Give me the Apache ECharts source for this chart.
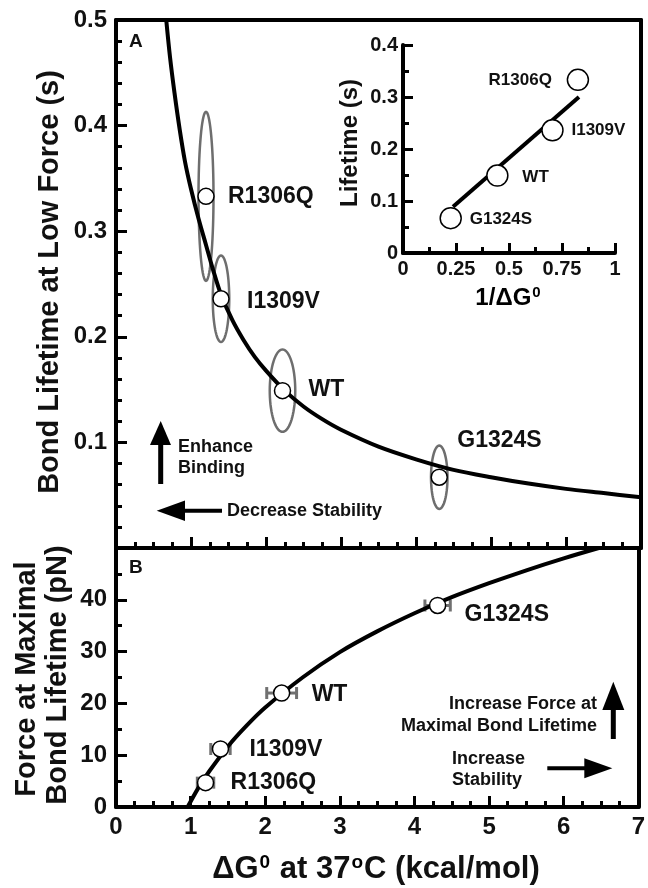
<!DOCTYPE html>
<html><head><meta charset="utf-8">
<script src="https://cdn.jsdelivr.net/npm/echarts@6/dist/echarts.min.js"></script>
<style>html,body{margin:0;padding:0;background:#fff}#c{width:648px;height:888px}</style>
</head><body><div id="c"></div>
<script>
// ---- data ----
const mutants = ['R1306Q', 'I1309V', 'WT', 'G1324S'];
// Panel A: bond lifetime at low force vs dG0
const dG = [1.20, 1.40, 2.22, 4.31];
const lifetime = [0.333, 0.236, 0.149, 0.067];
const dGErrA = [0.10, 0.11, 0.17, 0.11];
const lifetimeErr = [0.080, 0.041, 0.039, 0.030];
// Panel A fitted curve
const fitAx = [0.67, 0.72, 0.78, 0.85, 0.92, 1.0, 1.1, 1.2, 1.3, 1.4, 1.55, 1.7, 1.85, 2.0, 2.25, 2.5, 2.75, 3.0, 3.5, 4.0, 4.5, 5.0, 5.5, 6.0, 6.5, 7.0];
const fitAy = [0.500, 0.465, 0.431, 0.396, 0.366, 0.340, 0.312, 0.287, 0.262, 0.240, 0.216, 0.197, 0.181, 0.168, 0.149, 0.134, 0.122, 0.112, 0.096, 0.084, 0.074, 0.067, 0.061, 0.056, 0.052, 0.048];
// Inset: lifetime vs 1/dG0
const invDG = [0.825, 0.705, 0.445, 0.225];
const fitInsetX = [0.236, 0.83];
const fitInsetY = [0.089, 0.300];
// Panel B: force at maximal bond lifetime vs dG0
const forceMax = [4.7, 11.2, 22.0, 38.9];
const dGErrB = [0.11, 0.13, 0.20, 0.17];
const fitBx = [0.96, 1.1, 1.25, 1.5, 1.75, 2.0, 2.5, 3.0, 3.5, 4.0, 4.5, 5.0, 5.5, 6.0, 6.47];
const fitBy = [0, 3.6, 6.9, 11.7, 15.7, 19.2, 25.0, 29.9, 33.9, 37.4, 40.5, 43.2, 45.7, 48.0, 50.0];

const FONT = '"Liberation Sans", Arial, Helvetica, sans-serif';
const INK = '#111';

// label placement per mutant (style only)
const labA = {R1306Q: [22, 0, 'left'], I1309V: [26, 3, 'left'], WT: [26, -1, 'left'], G1324S: [18, -37, 'left']};
const labB = {R1306Q: [25, 0, 'left'], I1309V: [29, 1, 'left'], WT: [30, 2, 'left'], G1324S: [27, 9, 'left']};
const labI = {R1306Q: [-26, 0, 'right'], I1309V: [19, 0, 'left'], WT: [25, 2, 'left'], G1324S: [19, 1, 'left']};

function pts(xs, ys) { return xs.map((x, i) => [x, ys[i]]); }
function labelled(xs, ys, map, size) {
  return mutants.map((m, i) => ({
    value: [xs[i], ys[i]], name: m,
    label: {show: true, formatter: m, position: 'inside', offset: [map[m][0], map[m][1]], align: map[m][2],
      verticalAlign: 'middle', fontFamily: FONT, fontWeight: 'bold', fontSize: size, color: INK}
  }));
}

function mainX(gi, showLabel) {
  return {type: 'value', gridIndex: gi, min: 0, max: 7, interval: 1, position: 'bottom',
    axisLine: {show: true, onZero: false, lineStyle: {color: '#000', width: 4}},
    axisTick: {show: true, inside: true, length: 11, lineStyle: {color: '#000', width: 3}},
    minorTick: {show: true, splitNumber: 4, length: 6, lineStyle: {color: '#000', width: 3}},
    splitLine: {show: false},
    axisLabel: {show: showLabel, margin: 8, fontSize: 24, fontWeight: 'bold', fontFamily: FONT, color: INK}};
}
function borderAxis(kind, gi, pos, min, max) {
  return {type: 'value', gridIndex: gi, position: pos, min: min, max: max,
    axisLine: {show: true, onZero: false, lineStyle: {color: '#000', width: 4}},
    axisTick: {show: false}, axisLabel: {show: false}, splitLine: {show: false}};
}

const option = {
  animation: false,
  backgroundColor: '#fff',
  grid: [
    {left: 116, top: 20, width: 525, height: 528},
    {left: 116, top: 548, width: 525, height: 259},
    {left: 403, top: 45, width: 212, height: 208}
  ],
  xAxis: [
    mainX(0, false),
    borderAxis('x', 0, 'top', 0, 7),
    mainX(1, true),
    {type: 'value', gridIndex: 2, min: 0, max: 1, interval: 0.25, position: 'bottom',
      axisLine: {show: true, onZero: false, lineStyle: {color: '#000', width: 4}},
      axisTick: {show: true, inside: true, length: 10, lineStyle: {color: '#000', width: 3}},
      minorTick: {show: true, splitNumber: 2, length: 6, lineStyle: {color: '#000', width: 3}},
      splitLine: {show: false},
      axisLabel: {margin: 6, fontSize: 20, fontWeight: 'bold', fontFamily: FONT, color: INK}}
  ],
  yAxis: [
    {type: 'value', gridIndex: 0, min: 0, max: 0.5, interval: 0.1, position: 'left',
      axisLine: {show: true, onZero: false, lineStyle: {color: '#000', width: 4}},
      axisTick: {show: true, inside: true, length: 11, lineStyle: {color: '#000', width: 3}},
      minorTick: {show: true, splitNumber: 5, length: 6, lineStyle: {color: '#000', width: 3}},
      splitLine: {show: false},
      axisLabel: {margin: 9, fontSize: 24, fontWeight: 'bold', fontFamily: FONT, color: INK,
        formatter: v => (v === 0 ? '' : v.toFixed(1))}},
    borderAxis('y', 0, 'right', 0, 0.5),
    {type: 'value', gridIndex: 1, min: 0, max: 50, interval: 10, position: 'left',
      axisLine: {show: true, onZero: false, lineStyle: {color: '#000', width: 4}},
      axisTick: {show: true, inside: true, length: 11, lineStyle: {color: '#000', width: 3}},
      minorTick: {show: true, splitNumber: 2, length: 6, lineStyle: {color: '#000', width: 3}},
      splitLine: {show: false},
      axisLabel: {margin: 9, fontSize: 24, fontWeight: 'bold', fontFamily: FONT, color: INK,
        formatter: v => (v === 50 ? '' : String(v))}},
    borderAxis('y', 1, 'right', 0, 50),
    {type: 'value', gridIndex: 2, min: 0, max: 0.4, interval: 0.1, position: 'left',
      axisLine: {show: true, onZero: false, lineStyle: {color: '#000', width: 4}},
      axisTick: {show: true, inside: true, length: 10, lineStyle: {color: '#000', width: 3}},
      minorTick: {show: true, splitNumber: 2, length: 6, lineStyle: {color: '#000', width: 3}},
      splitLine: {show: false},
      axisLabel: {margin: 5, fontSize: 20, fontWeight: 'bold', fontFamily: FONT, color: INK,
        formatter: v => (v === 0 ? '0' : v.toFixed(1))}}
  ],
  series: [
    { // error ellipses, panel A
      type: 'custom', xAxisIndex: 0, yAxisIndex: 0, z: 2,
      data: mutants.map((m, i) => [dG[i], lifetime[i], dGErrA[i], lifetimeErr[i]]),
      renderItem: function (params, api) {
        const cx = api.value(0), cy = api.value(1), ex = api.value(2), ey = api.value(3);
        const p = [];
        for (let k = 0; k < 72; k++) {
          const t = k / 72 * Math.PI * 2;
          p.push(api.coord([cx + ex * Math.cos(t), cy + ey * Math.sin(t)]));
        }
        return {type: 'polygon', shape: {points: p}, style: {fill: null, stroke: '#6e6e6e', lineWidth: 2.5}};
      }
    },
    {type: 'line', xAxisIndex: 0, yAxisIndex: 0, data: pts(fitAx, fitAy), smooth: 0.3, symbol: 'none', z: 3,
      lineStyle: {color: '#000', width: 4}},
    {type: 'scatter', xAxisIndex: 0, yAxisIndex: 0, z: 5, symbol: 'circle', symbolSize: 16,
      itemStyle: {color: '#fff', borderColor: '#000', borderWidth: 1.5, opacity: 1},
      data: labelled(dG, lifetime, labA, 23)},
    { // horizontal error bars, panel B
      type: 'custom', xAxisIndex: 2, yAxisIndex: 2, z: 2,
      data: mutants.map((m, i) => [dG[i], forceMax[i], dGErrB[i]]),
      renderItem: function (params, api) {
        const x = api.value(0), y = api.value(1), e = api.value(2);
        const a = api.coord([x - e, y]), b = api.coord([x + e, y]);
        const st = {stroke: '#707070', lineWidth: 3};
        return {type: 'group', children: [
          {type: 'line', shape: {x1: a[0], y1: a[1], x2: b[0], y2: b[1]}, style: st},
          {type: 'line', shape: {x1: a[0], y1: a[1] - 6, x2: a[0], y2: a[1] + 6}, style: st},
          {type: 'line', shape: {x1: b[0], y1: b[1] - 6, x2: b[0], y2: b[1] + 6}, style: st}
        ]};
      }
    },
    {type: 'line', xAxisIndex: 2, yAxisIndex: 2, data: pts(fitBx, fitBy), smooth: 0.3, symbol: 'none', z: 3,
      lineStyle: {color: '#000', width: 4}},
    {type: 'scatter', xAxisIndex: 2, yAxisIndex: 2, z: 5, symbol: 'circle', symbolSize: 16,
      itemStyle: {color: '#fff', borderColor: '#000', borderWidth: 1.5, opacity: 1},
      data: labelled(dG, forceMax, labB, 23)},
    {type: 'line', xAxisIndex: 3, yAxisIndex: 4, data: pts(fitInsetX, fitInsetY), symbol: 'none', z: 3,
      lineStyle: {color: '#000', width: 4}},
    {type: 'scatter', xAxisIndex: 3, yAxisIndex: 4, z: 5, symbol: 'circle', symbolSize: 21,
      itemStyle: {color: '#fff', borderColor: '#000', borderWidth: 1.5, opacity: 1},
      data: labelled(invDG, lifetime, labI, 17)}
  ],
  graphic: [
    // axis titles
    {type: 'text', x: 50, y: 282, rotation: Math.PI / 2, z: 10,
      style: {text: 'Bond Lifetime at Low Force (s)', align: 'center', verticalAlign: 'middle',
        font: 'bold 29px ' + FONT, fill: INK}},
    {type: 'text', x: 27, y: 679, rotation: Math.PI / 2, z: 10,
      style: {text: 'Force at Maximal', align: 'center', verticalAlign: 'middle', font: 'bold 29px ' + FONT, fill: INK}},
    {type: 'text', x: 58, y: 675, rotation: Math.PI / 2, z: 10,
      style: {text: 'Bond Lifetime (pN)', align: 'center', verticalAlign: 'middle', font: 'bold 29px ' + FONT, fill: INK}},
    {type: 'text', x: 376, y: 869, z: 10,
      style: {text: '{a|ΔG}{s|0}{a| at 37}{s|o}{a|C (kcal/mol)}', align: 'center', verticalAlign: 'middle',
        rich: {a: {fontFamily: FONT, fontWeight: 'bold', fontSize: 31, fill: INK, color: INK},
               s: {fontFamily: FONT, fontWeight: 'bold', fontSize: 19, verticalAlign: 'top', color: INK, padding: [0, 1, 13, 1]}}}},
    {type: 'text', x: 350, y: 143, rotation: Math.PI / 2, z: 10,
      style: {text: 'Lifetime (s)', align: 'center', verticalAlign: 'middle', font: 'bold 24px ' + FONT, fill: INK}},
    {type: 'text', x: 508, y: 298, z: 10,
      style: {text: '{a|1/ΔG}{s|0}', align: 'center', verticalAlign: 'middle',
        rich: {a: {fontFamily: FONT, fontWeight: 'bold', fontSize: 24, color: INK},
               s: {fontFamily: FONT, fontWeight: 'bold', fontSize: 15, verticalAlign: 'top', color: INK, padding: [0, 0, 10, 1]}}}},
    // panel letters
    {type: 'text', x: 129, y: 42, z: 10, style: {text: 'A', align: 'left', verticalAlign: 'middle', font: 'bold 19px ' + FONT, fill: INK}},
    {type: 'text', x: 129, y: 568, z: 10, style: {text: 'B', align: 'left', verticalAlign: 'middle', font: 'bold 19px ' + FONT, fill: INK}},
    // annotations panel A
    {type: 'polygon', z: 10, shape: {points: [[150, 445], [171, 445], [160.7, 421]]}, style: {fill: '#000'}},
    {type: 'rect', z: 10, shape: {x: 158.2, y: 444, width: 5, height: 40}, style: {fill: '#000'}},
    {type: 'text', x: 178, y: 447, z: 10, style: {text: 'Enhance', align: 'left', verticalAlign: 'middle', font: 'bold 18px ' + FONT, fill: INK}},
    {type: 'text', x: 178, y: 468, z: 10, style: {text: 'Binding', align: 'left', verticalAlign: 'middle', font: 'bold 18px ' + FONT, fill: INK}},
    {type: 'polygon', z: 10, shape: {points: [[156.7, 510.7], [185, 500.5], [185, 521]]}, style: {fill: '#000'}},
    {type: 'rect', z: 10, shape: {x: 184, y: 508.7, width: 38, height: 4}, style: {fill: '#000'}},
    {type: 'text', x: 227, y: 511, z: 10, style: {text: 'Decrease Stability', align: 'left', verticalAlign: 'middle', font: 'bold 18px ' + FONT, fill: INK}},
    // annotations panel B
    {type: 'text', x: 597, y: 704, z: 10, style: {text: 'Increase Force at', align: 'right', verticalAlign: 'middle', font: 'bold 18px ' + FONT, fill: INK}},
    {type: 'text', x: 597, y: 726, z: 10, style: {text: 'Maximal Bond Lifetime', align: 'right', verticalAlign: 'middle', font: 'bold 18px ' + FONT, fill: INK}},
    {type: 'polygon', z: 10, shape: {points: [[602.3, 710], [624.3, 710], [613.3, 681.7]]}, style: {fill: '#000'}},
    {type: 'rect', z: 10, shape: {x: 610.8, y: 709, width: 5, height: 30}, style: {fill: '#000'}},
    {type: 'text', x: 452, y: 759, z: 10, style: {text: 'Increase', align: 'left', verticalAlign: 'middle', font: 'bold 18px ' + FONT, fill: INK}},
    {type: 'text', x: 452, y: 780, z: 10, style: {text: 'Stability', align: 'left', verticalAlign: 'middle', font: 'bold 18px ' + FONT, fill: INK}},
    {type: 'polygon', z: 10, shape: {points: [[612.3, 768.3], [584.3, 758.3], [584.3, 778.3]]}, style: {fill: '#000'}},
    {type: 'rect', z: 10, shape: {x: 547.3, y: 766.3, width: 38, height: 4}, style: {fill: '#000'}}
  ]
};

const chart = echarts.init(document.getElementById('c'), null, {renderer: 'canvas'});
chart.setOption(option);
</script>
</body></html>
